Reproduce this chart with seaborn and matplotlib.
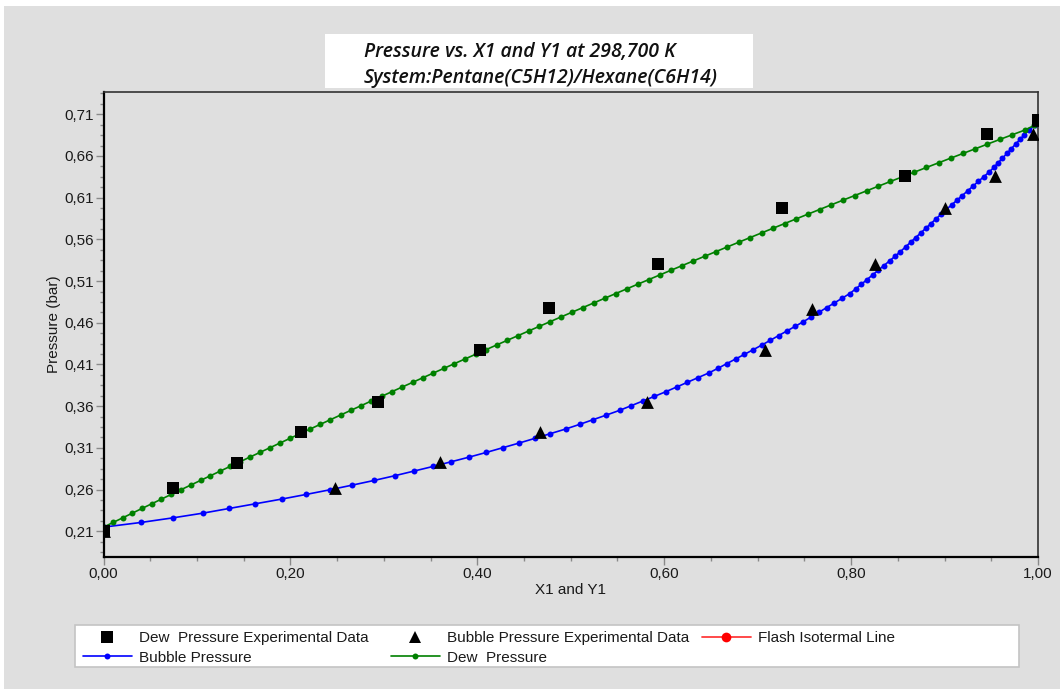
import matplotlib
matplotlib.use("Agg")
import matplotlib.pyplot as plt
import seaborn as sns
from matplotlib.lines import Line2D
from matplotlib.patches import Rectangle
from matplotlib.ticker import FixedLocator, AutoMinorLocator, FuncFormatter

# ---------------- data ----------------
calc_pressure = [
    0.2150, 0.2206, 0.2262, 0.2318, 0.2374, 0.2430, 0.2486, 0.2542, 0.2598, 0.2654,
    0.2710, 0.2766, 0.2822, 0.2878, 0.2934, 0.2990, 0.3046, 0.3102, 0.3158, 0.3214,
    0.3270, 0.3326, 0.3382, 0.3438, 0.3494, 0.3550, 0.3606, 0.3662, 0.3718, 0.3774,
    0.3830, 0.3886, 0.3942, 0.3998, 0.4054, 0.4110, 0.4166, 0.4222, 0.4278, 0.4334,
    0.4390, 0.4446, 0.4502, 0.4558, 0.4614, 0.4670, 0.4726, 0.4782, 0.4838, 0.4894,
    0.4950, 0.5006, 0.5062, 0.5118, 0.5174, 0.5230, 0.5286, 0.5342, 0.5398, 0.5454,
    0.5510, 0.5566, 0.5622, 0.5678, 0.5734, 0.5790, 0.5846, 0.5902, 0.5958, 0.6014,
    0.6070, 0.6126, 0.6182, 0.6238, 0.6294, 0.6350, 0.6406, 0.6462, 0.6518, 0.6574,
    0.6630, 0.6686, 0.6742, 0.6798, 0.6854, 0.6910, 0.6966,
]
bubble_x1 = [
    0.0000, 0.0400, 0.0747, 0.1065, 0.1345, 0.1625, 0.1905, 0.2168, 0.2423, 0.2663,
    0.2896, 0.3115, 0.3322, 0.3528, 0.3721, 0.3914, 0.4097, 0.4272, 0.4447, 0.4615,
    0.4779, 0.4944, 0.5095, 0.5238, 0.5382, 0.5522, 0.5647, 0.5771, 0.5896, 0.6018,
    0.6133, 0.6247, 0.6361, 0.6476, 0.6575, 0.6669, 0.6764, 0.6859, 0.6954, 0.7046,
    0.7135, 0.7224, 0.7313, 0.7402, 0.7490, 0.7574, 0.7656, 0.7738, 0.7821, 0.7903,
    0.7985, 0.8049, 0.8110, 0.8170, 0.8230, 0.8290, 0.8351, 0.8411, 0.8471, 0.8528,
    0.8583, 0.8637, 0.8691, 0.8746, 0.8800, 0.8854, 0.8909, 0.8963, 0.9018, 0.9076,
    0.9133, 0.9190, 0.9247, 0.9304, 0.9361, 0.9418, 0.9476, 0.9527, 0.9573, 0.9620,
    0.9667, 0.9713, 0.9760, 0.9807, 0.9853, 0.9900, 0.9970,
]
dew_y1 = [
    0.0000, 0.0103, 0.0206, 0.0309, 0.0412, 0.0516, 0.0620, 0.0724, 0.0828, 0.0933,
    0.1038, 0.1144, 0.1249, 0.1355, 0.1461, 0.1567, 0.1674, 0.1781, 0.1888, 0.1995,
    0.2103, 0.2211, 0.2319, 0.2428, 0.2537, 0.2646, 0.2756, 0.2865, 0.2976, 0.3086,
    0.3197, 0.3308, 0.3419, 0.3531, 0.3643, 0.3755, 0.3868, 0.3981, 0.4094, 0.4207,
    0.4321, 0.4436, 0.4550, 0.4665, 0.4780, 0.4896, 0.5012, 0.5129, 0.5246, 0.5363,
    0.5480, 0.5598, 0.5716, 0.5835, 0.5954, 0.6073, 0.6193, 0.6313, 0.6434, 0.6555,
    0.6676, 0.6798, 0.6920, 0.7043, 0.7166, 0.7289, 0.7413, 0.7537, 0.7662, 0.7787,
    0.7913, 0.8039, 0.8166, 0.8293, 0.8420, 0.8549, 0.8677, 0.8806, 0.8936, 0.9066,
    0.9197, 0.9328, 0.9459, 0.9591, 0.9724, 0.9857, 0.9960,
]
dew_exp_y1 = [0.0, 0.0747, 0.1426, 0.2115, 0.2942, 0.4024, 0.4763, 0.5933, 0.7261, 0.8574, 0.9456, 1.0]
dew_exp_p = [0.2105, 0.2623, 0.2923, 0.3287, 0.3654, 0.4274, 0.4774, 0.5301, 0.5973, 0.6360, 0.6860, 0.7028]
bubble_exp_x1 = [0.0, 0.2479, 0.3603, 0.4673, 0.5816, 0.7082, 0.7582, 0.8260, 0.9009, 0.9545, 0.9949, 1.0]
bubble_exp_p = [0.2105, 0.2623, 0.2928, 0.3287, 0.3647, 0.4274, 0.4765, 0.5301, 0.5973, 0.6360, 0.6868, 0.7028]

x_ticks = [0.0, 0.2, 0.4, 0.6, 0.8, 1.0]
y_ticks = [0.21, 0.26, 0.31, 0.36, 0.41, 0.46, 0.51, 0.56, 0.61, 0.66, 0.71]

title_lines = ["Pressure vs. X1 and Y1 at 298,700 K",
               "System:Pentane(C5H12)/Hexane(C6H14)"]
x_label = "X1 and Y1"
y_label = "Pressure (bar)"
legend_labels = ["Dew  Pressure Experimental Data", "Bubble Pressure Experimental Data",
                 "Flash Isotermal Line", "Bubble Pressure", "Dew  Pressure"]

# ---------------- style ----------------
sns.set_theme(style="ticks")
plt.rcParams["font.family"] = ["Liberation Sans", "DejaVu Sans"]

BG = "#DFDFDF"
W, H = 1060, 689
fig = plt.figure(figsize=(W / 100, H / 100), dpi=100, facecolor="white")

# gray canvas (white strip at top and left like the reference)
fig.patches.append(Rectangle((4 / W, 0), 1, 1 - 6 / H, transform=fig.transFigure,
                             facecolor=BG, edgecolor="none", zorder=-10))

ax = fig.add_axes([103.5 / W, 1 - 557 / H, (1038 - 103.5) / W, (557 - 92) / H])
ax.set_facecolor(BG)

# calculated curves
sns.lineplot(x=bubble_x1, y=calc_pressure, ax=ax, color="#0000FF", linewidth=1.2,
             marker="o", markersize=4.3, markeredgewidth=0, sort=False, legend=False, zorder=2)
sns.lineplot(x=dew_y1, y=calc_pressure, ax=ax, color="#008000", linewidth=1.2,
             marker="o", markersize=4.3, markeredgewidth=0, sort=False, legend=False, zorder=2)

# experimental data
sns.scatterplot(x=bubble_exp_x1, y=bubble_exp_p, ax=ax, marker="^", s=85, color="black",
                edgecolor="black", linewidth=0, legend=False, zorder=3)
sns.scatterplot(x=dew_exp_y1, y=dew_exp_p, ax=ax, marker="s", s=72, color="black",
                edgecolor="black", linewidth=0, legend=False, zorder=4)

ax.set_xlim(0.0, 1.0)
ax.set_ylim(0.1792, 0.7367)

ax.xaxis.set_major_locator(FixedLocator(x_ticks))
ax.yaxis.set_major_locator(FixedLocator(y_ticks))
ax.xaxis.set_minor_locator(AutoMinorLocator(4))
ax.yaxis.set_minor_locator(AutoMinorLocator(4))
ax.xaxis.set_major_formatter(FuncFormatter(lambda v, p: f"{v:.2f}".replace(".", ",")))
ax.yaxis.set_major_formatter(FuncFormatter(lambda v, p: f"{v:.2f}".replace(".", ",")))

ax.tick_params(which="major", direction="out", length=5.5, width=1.0, color="#8A8A8A",
               labelsize=11, labelcolor="#1A1A1A", pad=1.5)
ax.tick_params(which="minor", direction="out", length=3.0, width=1.0, color="#8A8A8A")
ax.tick_params(axis="x", which="both", bottom=True, top=False)
ax.tick_params(axis="y", which="both", left=True, right=False)

for side in ["left", "bottom"]:
    ax.spines[side].set_color("black")
    ax.spines[side].set_linewidth(1.6)
for side in ["top", "right"]:
    ax.spines[side].set_color("#333333")
    ax.spines[side].set_linewidth(1.2)

ax.set_xlabel(x_label, fontsize=11, color="#1A1A1A", labelpad=2)
ax.set_ylabel(y_label, fontsize=11, color="#1A1A1A", labelpad=2.5)

# title box
fig.patches.append(Rectangle((325 / W, 1 - 88 / H), 428 / W, 54 / H, transform=fig.transFigure,
                             facecolor="white", edgecolor="none", zorder=1))
for i, line in enumerate(title_lines):
    yb = [57.0, 82.5][i]
    fig.text(364 / W, 1 - yb / H, line, ha="left", va="baseline", fontsize=14,
             family=["Open Sans", "DejaVu Sans"], style="italic", weight="semibold",
             color="#111111", zorder=2)

# legend box
fig.patches.append(Rectangle((75 / W, 1 - 667 / H), 944 / W, 42 / H, transform=fig.transFigure,
                             facecolor="white", edgecolor="#C4C4C4", linewidth=1.2, zorder=1))

h_dew_exp = Line2D([], [], linestyle="none", marker="s", markersize=8, color="black", markeredgewidth=0)
h_bub_exp = Line2D([], [], linestyle="none", marker="^", markersize=9, color="black", markeredgewidth=0)
h_flash = Line2D([], [], color="#FF3B3B", linewidth=1.3, marker="o", markersize=7,
                 markerfacecolor="red", markeredgewidth=0)
h_bub = Line2D([], [], color="#0000FF", linewidth=1.2, marker="o", markersize=4.3, markeredgewidth=0)
h_dew = Line2D([], [], color="#008000", linewidth=1.2, marker="o", markersize=4.3, markeredgewidth=0)

columns = [([h_dew_exp, h_bub], [legend_labels[0], legend_labels[3]], 83),
           ([h_bub_exp, h_dew], [legend_labels[1], legend_labels[4]], 391),
           ([h_flash], [legend_labels[2]], 702)]
for handles, labels, xpx in columns:
    leg = fig.legend(handles, labels, loc="upper left", bbox_to_anchor=(xpx / W, 1 - 631 / H),
                     frameon=False, fontsize=11, handlelength=3.2, handletextpad=0.45,
                     borderpad=0, borderaxespad=0, labelspacing=0.36, ncol=1)
    leg.set_zorder(3)
    for t in leg.get_texts():
        t.set_color("#1A1A1A")

fig.savefig("out.png", dpi=100, facecolor=fig.get_facecolor())
